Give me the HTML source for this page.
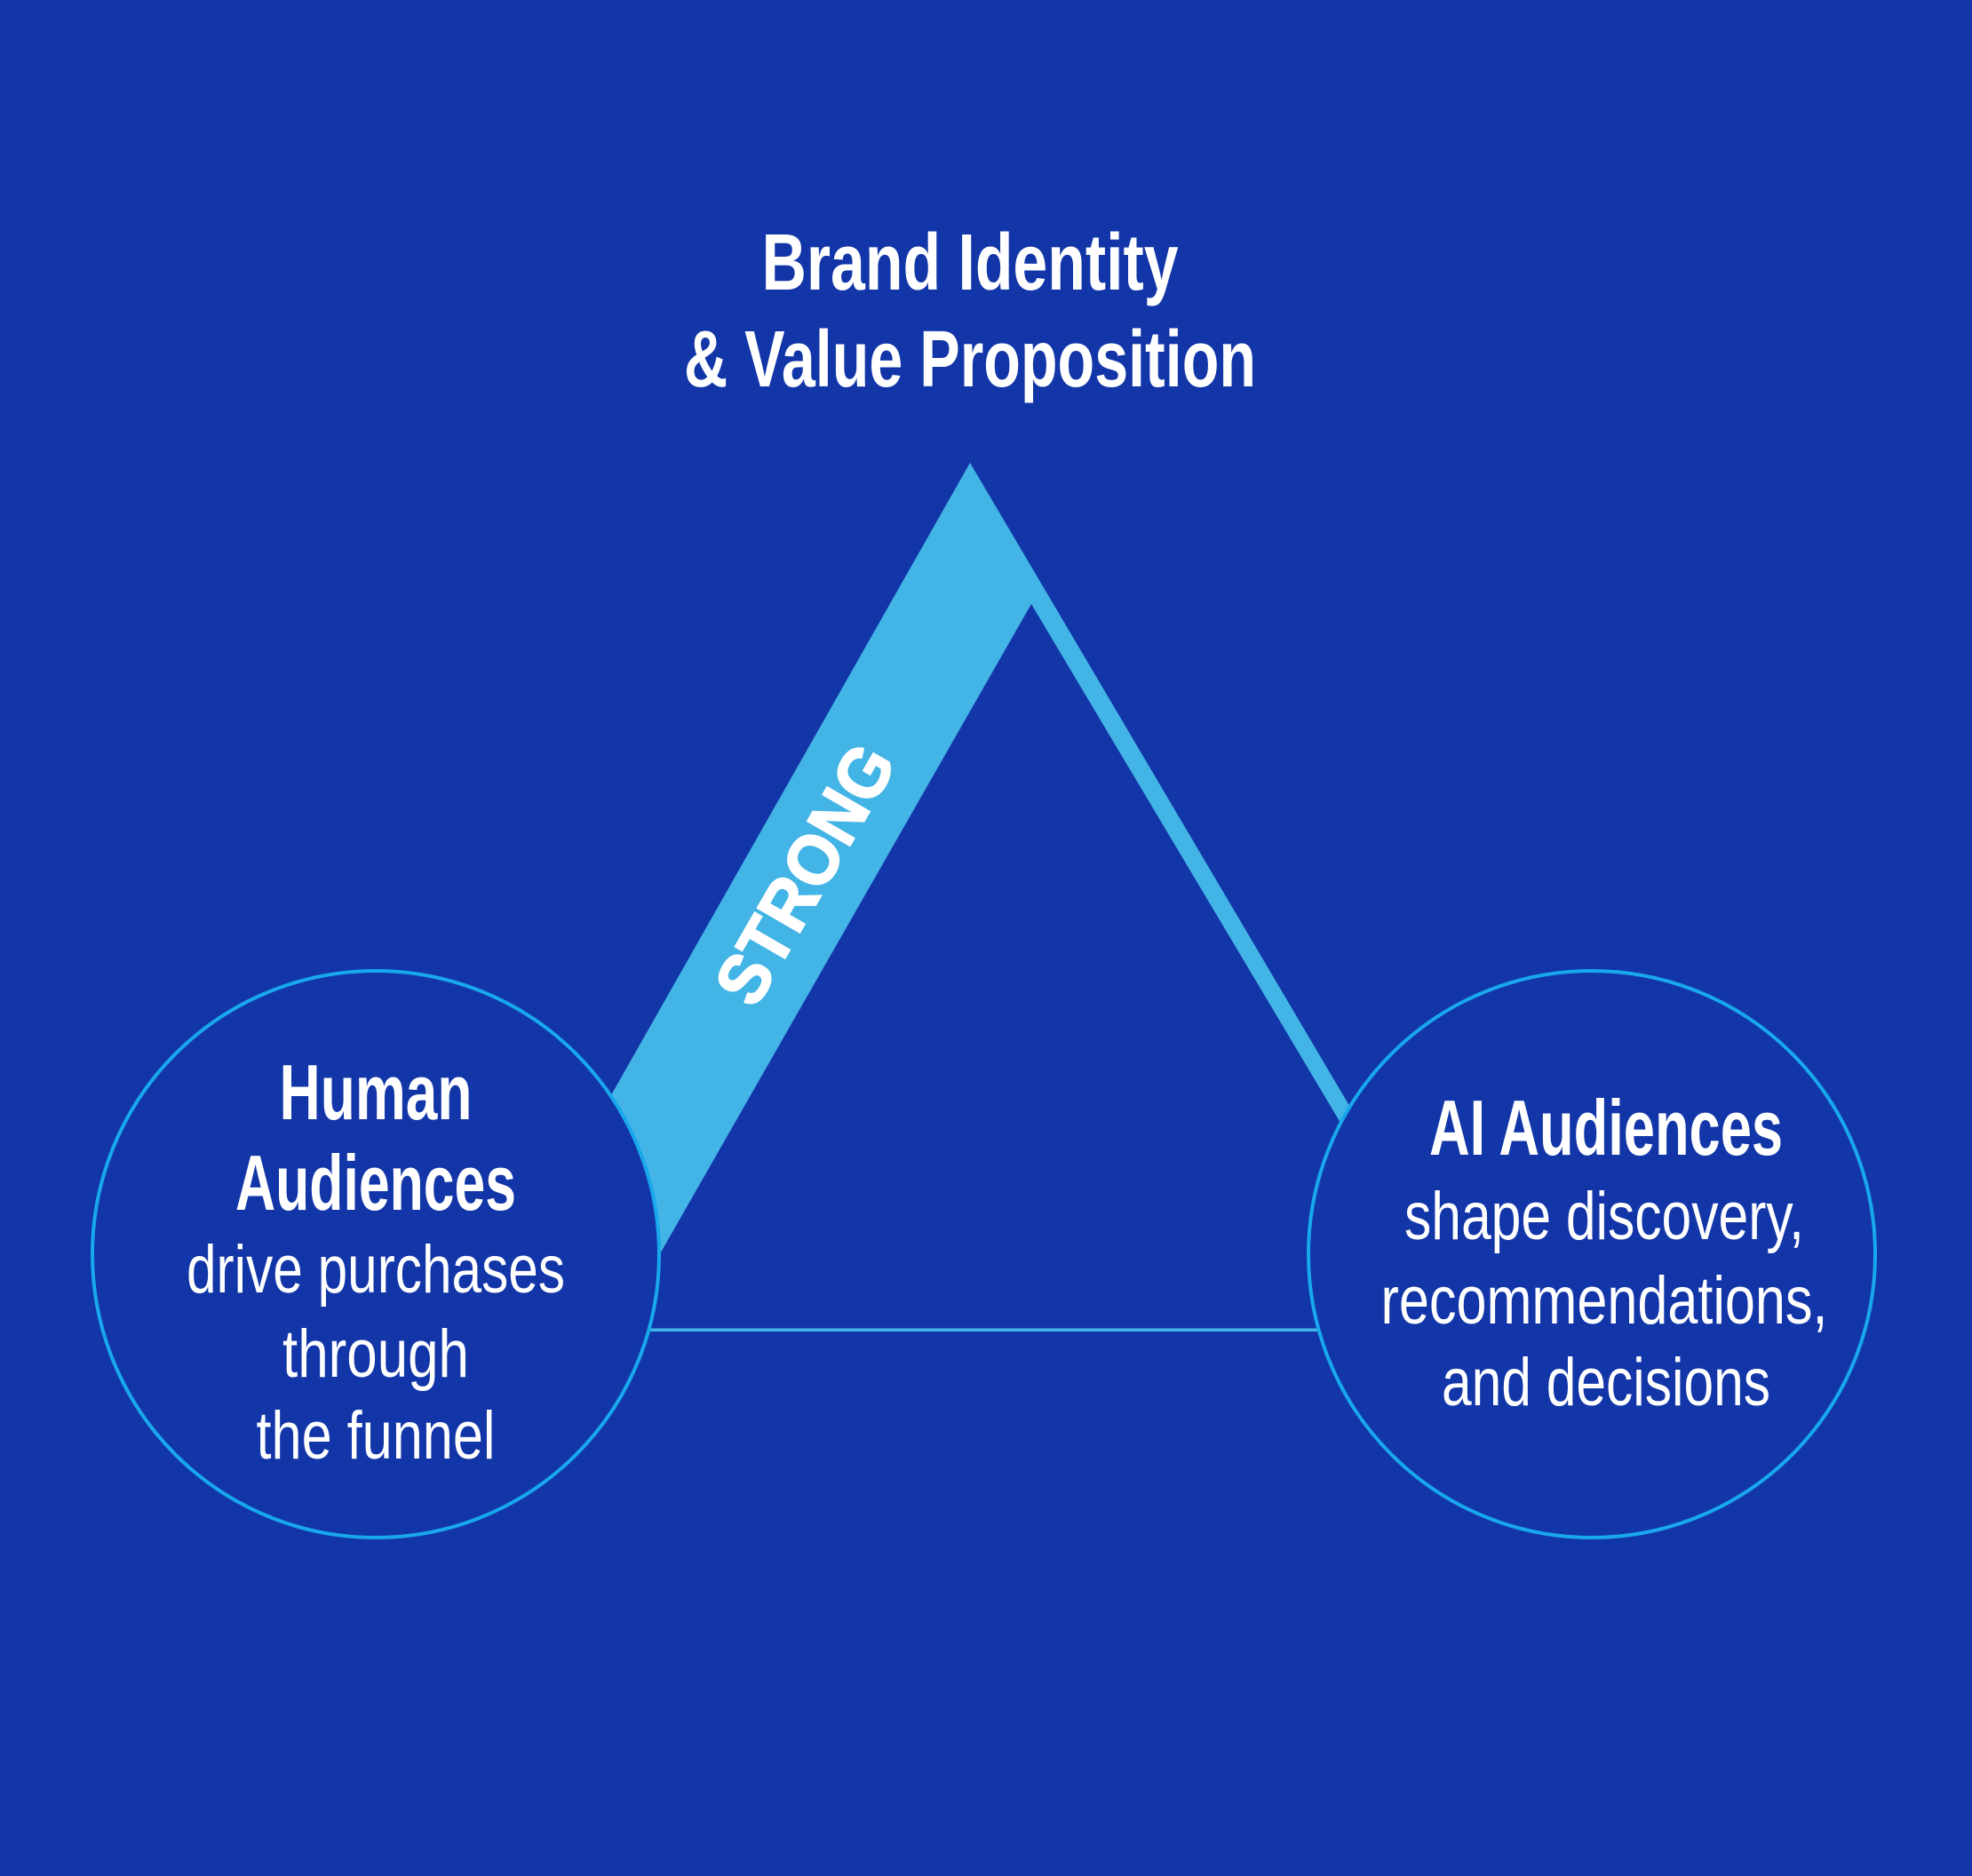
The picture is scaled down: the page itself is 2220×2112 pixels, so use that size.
<!DOCTYPE html>
<html><head><meta charset="utf-8"><style>
html,body{margin:0;padding:0;background:#1236a8;}
svg{display:block;}
text{font-family:"Liberation Sans",sans-serif;fill:#fff;}
</style></head><body>
<svg width="2220" height="2112" viewBox="0 0 2220 2112" xmlns="http://www.w3.org/2000/svg">
<rect width="2220" height="2112" fill="#1236a8"/>
<polygon points="1092,521 537,1499 1669,1499" fill="#42b4e6"/>
<polygon points="1161,680 695,1495.5 1647,1495.5" fill="#1236a8"/>
<circle cx="423" cy="1412" r="319" fill="#1236a8" stroke="#19a8ec" stroke-width="4"/>
<circle cx="1792" cy="1412" r="319" fill="#1236a8" stroke="#19a8ec" stroke-width="4"/>
<text x="1092" y="326" font-size="90" font-weight="bold" text-anchor="middle" textLength="469" lengthAdjust="spacingAndGlyphs">Brand Identity</text>
<text x="1092" y="435" font-size="90" font-weight="bold" text-anchor="middle" textLength="644" lengthAdjust="spacingAndGlyphs">&amp; Value Proposition</text>
<text transform="translate(906,984) rotate(-60)" x="0" y="28" font-size="80" font-weight="bold" stroke="#fff" stroke-width="2" text-anchor="middle" textLength="322" lengthAdjust="spacingAndGlyphs">STRONG</text>
<g text-anchor="middle">
<text x="423" y="1260" font-size="88" font-weight="bold" textLength="217" lengthAdjust="spacingAndGlyphs">Human</text>
<text x="423" y="1362" font-size="88" font-weight="bold" textLength="316" lengthAdjust="spacingAndGlyphs">Audiences</text>
<text x="423" y="1455" font-size="76" textLength="426" lengthAdjust="spacingAndGlyphs">drive purchases</text>
<text x="423" y="1550" font-size="76" textLength="210" lengthAdjust="spacingAndGlyphs">through</text>
<text x="423" y="1642" font-size="76" textLength="269" lengthAdjust="spacingAndGlyphs">the funnel</text>
<text x="1808" y="1300" font-size="88" font-weight="bold" textLength="398" lengthAdjust="spacingAndGlyphs">AI Audiences</text>
<text x="1806" y="1395" font-size="76" textLength="450" lengthAdjust="spacingAndGlyphs">shape discovery,</text>
<text x="1806" y="1490" font-size="76" textLength="503" lengthAdjust="spacingAndGlyphs">recommendations,</text>
<text x="1808" y="1582" font-size="76" textLength="370" lengthAdjust="spacingAndGlyphs">and decisions</text>
</g>
</svg>
</body></html>
